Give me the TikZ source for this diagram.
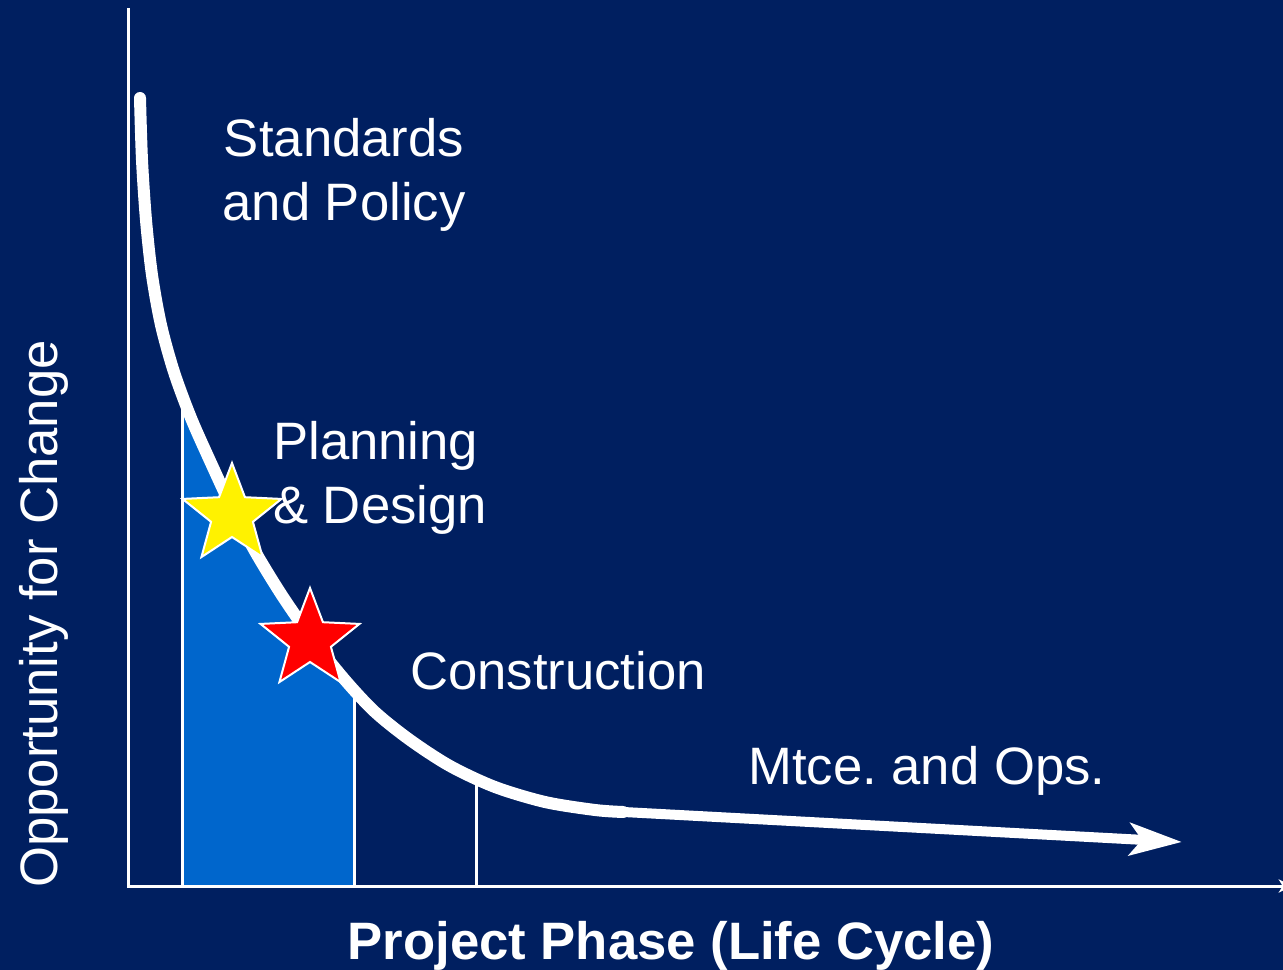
\documentclass[tikz,border=0pt]{standalone}
\usepackage{fontspec}
\setmainfont{Liberation Sans}
\usetikzlibrary{arrows.meta}
\definecolor{navybg}{RGB}{0,31,96}
\definecolor{fillblue}{RGB}{0,102,204}
\frenchspacing
\begin{document}
\begin{tikzpicture}[x=0.75pt,y=-0.75pt,
  lbl/.style={text=white,inner sep=0pt,font=\fontsize{39.5}{48}\selectfont},
  boldlbl/.style={lbl,font=\fontsize{39.5}{48}\selectfont\bfseries},
  thinwhite/.style={draw=white,line width=2.25pt},
  curveline/.style={draw=white,line width=9pt,line cap=round},
  starshape/.style={draw=white,line width=1.5pt,line join=miter},
]
\fill[navybg] (0,0) rectangle (1283,970);
\useasboundingbox (0,0) rectangle (1283,970);

% shaded region under the curve
\begin{scope}
  \clip plot[smooth,tension=0.5] coordinates {(140,98) (142,160) (146,220) (152,275) (161,325) (174,372) (191,418) (211,463) (232,508) (256,553) (283,597) (313,640) (345,680) (375,712) (410,740) (450,766) (495,787) (545,802) (595,810) (623,812)} -- (623,886) -- (140,886) -- cycle;
  \fill[fillblue] (182,0) rectangle (354,886);
  \draw[thinwhite] (182,0) -- (182,886);
  \draw[thinwhite] (354,0) -- (354,886);
  \draw[thinwhite] (476,0) -- (476,886);
\end{scope}

% axes
\coordinate (ytop) at (128,8);
\coordinate (origin) at (128,886);
\coordinate (xend) at (1292,886);
\draw[white,line width=2.25pt,-{Stealth[length=10pt,width=10pt,inset=3pt]}] (ytop) -- (origin) -- (xend);

% curve
\draw[curveline] plot[smooth,tension=0.5] coordinates {(140,98) (142,160) (146,220) (152,275) (161,325) (174,372) (191,418) (211,463) (232,508) (256,553) (283,597) (313,640) (345,680) (375,712) (410,740) (450,766) (495,787) (545,802) (595,810) (623,812)};
\coordinate (tailstart) at (605,811);
\coordinate (tailend) at (1182,842);
\draw[white,line width=7.5pt,-{Stealth[length=39pt,width=24pt,inset=9pt]}] (tailstart) -- (tailend);

% stars
\fill[yellow,starshape] (232,515) +(270:52) -- +(306:22) -- +(342:52) -- +(18:22) -- +(54:52) -- +(90:22) -- +(126:52) -- +(162:22) -- +(198:52) -- +(234:22) -- cycle;
\fill[red,starshape] (310,640) +(270:52) -- +(306:22) -- +(342:52) -- +(18:22) -- +(54:52) -- +(90:22) -- +(126:52) -- +(162:22) -- +(198:52) -- +(234:22) -- cycle;

% labels
\node[lbl,anchor=base,align=center] (std) at (344,221) {Standards\\and Policy};
\node[lbl,anchor=base west,align=left] (plan) at (273,523) {Planning\\\& Design};
\node[lbl,anchor=base west] (constr) at (410,689) {Construction};
\node[lbl,anchor=base west] (mtce) at (748,784) {Mtce. and Ops.};
\node[lbl,anchor=base,rotate=90] (ylab) at (57,614) {Opportunity for Change};
\node[boldlbl,anchor=base] (xlab) at (671,959) {Project Phase (Life Cycle)};
\end{tikzpicture}
\end{document}
